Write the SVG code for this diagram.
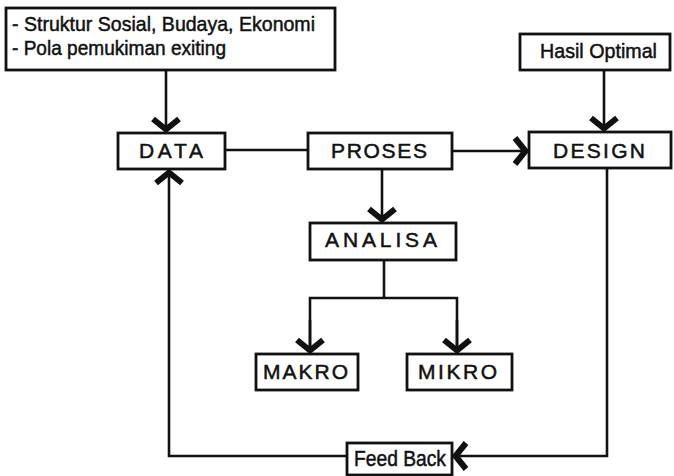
<svg xmlns="http://www.w3.org/2000/svg" width="674" height="476" viewBox="0 0 674 476">
<style>
.box{fill:#fff;stroke:#111;stroke-width:2.8}
.ln{fill:none;stroke:#111;stroke-width:2.6}
.t{font-family:"Liberation Sans",Arial,sans-serif;fill:#111;stroke:#111;stroke-width:0.5}
.cap{font-size:21px}
.sm{font-size:21px}
</style>
<defs>
<marker id="ah" markerUnits="userSpaceOnUse" viewBox="-16 -16 20 32" refX="0" refY="0" markerWidth="20" markerHeight="32" orient="auto" overflow="visible">
<path d="M-14,-13 L-3.5,0 L-14,13" fill="none" stroke="#111" stroke-width="6" stroke-linejoin="miter"/>
</marker>
</defs>
<rect width="674" height="476" fill="#fff"/>
<g id="connectors">
<line class="ln" x1="166" y1="70" x2="166" y2="133" marker-end="url(#ah)"/>
<polyline class="ln" points="347,456 169,456 169,169" marker-end="url(#ah)"/>
<line class="ln" x1="225" y1="150" x2="308" y2="150"/>
<line class="ln" x1="452" y1="151" x2="529" y2="151" marker-end="url(#ah)"/>
<line class="ln" x1="604" y1="70" x2="604" y2="132" marker-end="url(#ah)"/>
<line class="ln" x1="382" y1="169" x2="382" y2="223" marker-end="url(#ah)"/>
<line class="ln" x1="384" y1="260" x2="384" y2="298"/>
<polyline class="ln" points="310,354 310,298 457,298 457,354"/>
<line class="ln" x1="310" y1="320" x2="310" y2="354" marker-end="url(#ah)"/>
<line class="ln" x1="457" y1="320" x2="457" y2="354" marker-end="url(#ah)"/>
<polyline class="ln" points="607,168 607,456 452,456" marker-end="url(#ah)"/>
</g>
<g id="node-input">
<rect class="box" x="6" y="8" width="329" height="62"/>
<text class="t sm" x="12" y="31" textLength="303" lengthAdjust="spacingAndGlyphs">- Struktur Sosial, Budaya, Ekonomi</text>
<text class="t sm" x="12" y="55" textLength="214" lengthAdjust="spacingAndGlyphs">- Pola pemukiman exiting</text>
</g>
<g id="node-hasil">
<rect class="box" x="520" y="34" width="150" height="36"/>
<text class="t sm" x="540" y="58" textLength="117" lengthAdjust="spacingAndGlyphs">Hasil Optimal</text>
</g>
<g id="node-data">
<rect class="box" x="118" y="133" width="107" height="36"/>
<text class="t cap" x="139" y="158" textLength="64" lengthAdjust="spacing">DATA</text>
</g>
<g id="node-proses">
<rect class="box" x="308" y="133" width="144" height="36"/>
<text class="t cap" x="331" y="158" textLength="96" lengthAdjust="spacing">PROSES</text>
</g>
<g id="node-design">
<rect class="box" x="529" y="132" width="142" height="36"/>
<text class="t cap" x="553" y="158" textLength="92" lengthAdjust="spacing">DESIGN</text>
</g>
<g id="node-analisa">
<rect class="box" x="310" y="223" width="146" height="37"/>
<text class="t cap" x="325" y="247" textLength="112" lengthAdjust="spacing">ANALISA</text>
</g>
<g id="node-makro">
<rect class="box" x="256" y="354" width="102" height="36"/>
<text class="t cap" x="263" y="379" textLength="85" lengthAdjust="spacing">MAKRO</text>
</g>
<g id="node-mikro">
<rect class="box" x="407" y="354" width="105" height="36"/>
<text class="t cap" x="418" y="379" textLength="79" lengthAdjust="spacing">MIKRO</text>
</g>
<g id="node-feedback">
<rect class="box" x="347" y="443" width="105" height="32"/>
<text class="t" font-size="22" x="354" y="466" textLength="92" lengthAdjust="spacingAndGlyphs">Feed Back</text>
</g>
</svg>
